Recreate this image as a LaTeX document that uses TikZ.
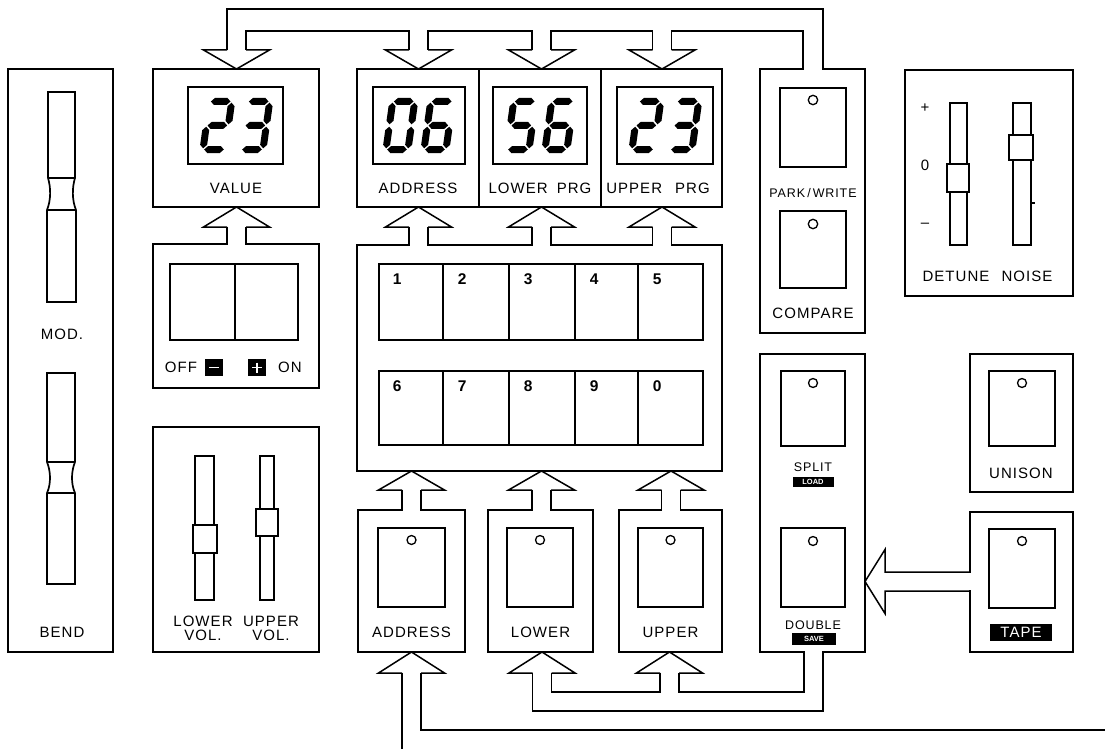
\documentclass[tikz,border=0pt]{standalone}
\usepackage{fontspec}
\setmainfont{Liberation Sans}
\newfontfamily\lab{Liberation Sans}[LetterSpace=7]
\newcommand{\SegH}[3]{\fill (#1+1.2,#3) -- (#1+4.7,#3+3.5) -- (#2-4.7,#3+3.5) -- (#2-1.2,#3) -- (#2-4.7,#3-3.5) -- (#1+4.7,#3-3.5) -- cycle;}
\newcommand{\SegV}[3]{\fill (#1,#2+1.2) -- (#1+3.5,#2+4.7) -- (#1+3.5,#3-4.7) -- (#1,#3-1.2) -- (#1-3.5,#3-4.7) -- (#1-3.5,#2+4.7) -- cycle;}
\newcommand{\sga}{\SegH{0}{22}{48}}
\newcommand{\sgb}{\SegV{22}{24}{48}}
\newcommand{\sgc}{\SegV{22}{0}{24}}
\newcommand{\sgd}{\SegH{0}{22}{0}}
\newcommand{\sge}{\SegV{0}{0}{24}}
\newcommand{\sgf}{\SegV{0}{24}{48}}
\newcommand{\sgg}{\SegH{0}{22}{24}}
\newcommand{\DigZero}{\sga\sgb\sgc\sgd\sge\sgf}
\newcommand{\DigTwo}{\sga\sgb\sgg\sge\sgd}
\newcommand{\DigThree}{\sga\sgb\sgg\sgc\sgd}
\newcommand{\DigFive}{\sga\sgf\sgg\sgc\sgd}
\newcommand{\DigSix}{\sga\sgf\sgg\sge\sgc\sgd}
\newcommand{\SevSeg}[3]{\begin{scope}[shift={(#1,#2)}, xslant=0.14, yscale=-1]#3\end{scope}}
\newcommand{\ArrHead}[3]{\draw (#1-9.5,#3) -- (#1-33,#3) -- (#1,#2) -- (#1+33,#3) -- (#1+9.5,#3);}
\newcommand{\Gap}[3]{\fill[white] (#1+0.9,#3-1.6) rectangle (#2-0.9,#3+1.6);}
\begin{document}
\begin{tikzpicture}[x=1pt,y=-1pt,line width=1.5pt,line join=miter,
  pan/.style={draw,line width=1.5pt},
  disp/.style={draw,line width=2.2pt},
  btn/.style={draw,line width=1.7pt},
  led/.style={draw,line width=1.3pt},
  lbl/.style={inner sep=0pt,font=\lab\fontsize{15}{15}\selectfont},
  slbl/.style={inner sep=0pt,font=\lab\fontsize{12.5}{13}\selectfont},
  keyn/.style={inner sep=0pt,anchor=west,font=\bfseries\fontsize{15.5}{15.5}\selectfont},
  blk/.style={fill=black,text=white,inner sep=0pt}]
\fill[white] (0,0) rectangle (1105,749);
\useasboundingbox (0,0) rectangle (1105,749);

% ---------- MOD / BEND ----------
\draw[pan] (8,69) rectangle (113,652);
\draw[btn] (48,92) -- (75,92) -- (75,178) .. controls (72,188) and (72,200) .. (76,210) -- (76,302) -- (47,302) -- (47,210) .. controls (51,200) and (51,188) .. (48,178) -- cycle;
\draw[btn] (48,178) -- (75,178) (47,210) -- (76,210);
\draw[btn] (47,373) -- (75,373) -- (75,462) .. controls (71,472) and (71,484) .. (75,493) -- (75,584) -- (47,584) -- (47,493) .. controls (51,484) and (51,472) .. (47,462) -- cycle;
\draw[btn] (47,462) -- (75,462) (47,493) -- (75,493);
\node[lbl] (mod) at (62,334) {MOD.};
\node[lbl] (bend) at (62,632) {BEND};

% ---------- VALUE ----------
\draw[pan] (153,69) rectangle (319,207);
\draw[disp] (188,87) rectangle (283,164);
\SevSeg{203}{149.5}{\DigTwo}
\SevSeg{241}{149.5}{\DigThree}
\node[lbl] (valuel) at (236,188) {VALUE};

% ---------- OFF / ON ----------
\draw[pan] (153,244) rectangle (319,388);
\draw[btn] (170,264) rectangle (298,340);
\draw[btn] (235,264) -- (235,340);
\node[lbl] (off) at (181,367) {OFF};
\node[lbl] (on) at (290,367) {ON};
\fill (205,359) rectangle (223,376);
\draw[white,line width=1.8pt] (209,367.5) -- (219,367.5);
\fill (248,359) rectangle (266,376);
\draw[white,line width=1.8pt] (252,367.5) -- (262,367.5) (257,362.5) -- (257,372.5);

% ---------- LOWER / UPPER VOL ----------
\draw[pan] (153,427) rectangle (319,652);
\draw[btn] (195,456) rectangle (214,600);
\draw[btn,fill=white] (193,525) rectangle (217,553);
\draw[btn] (260,456) rectangle (274,600);
\draw[btn,fill=white] (256,509) rectangle (278,536);
\node[lbl] (lowl) at (203,621) {LOWER};
\node[lbl] (lowv) at (203,635) {VOL.};
\node[lbl] (uppl) at (271,621) {UPPER};
\node[lbl] (uppv) at (271,635) {VOL.};

% ---------- DISPLAYS ----------
\draw[pan] (357,69) rectangle (722,207);
\draw[pan] (479,69) -- (479,207) (601,69) -- (601,207);
\draw[disp] (373,87) rectangle (465,164);
\draw[disp] (493,87) rectangle (587,164);
\draw[disp] (617,87) rectangle (713,164);
\SevSeg{386}{149.5}{\DigZero}
\SevSeg{424}{149.5}{\DigSix}
\SevSeg{507}{149.5}{\DigFive}
\SevSeg{545}{149.5}{\DigSix}
\SevSeg{632}{149.5}{\DigTwo}
\SevSeg{670}{149.5}{\DigThree}
\node[lbl] (adrl) at (418,188) {ADDRESS};
\node[lbl] (lprg) at (540,188) {LOWER\hspace{9pt}PRG};
\node[lbl] (uprg) at (658,188) {UPPER\hspace{13pt}PRG};

% ---------- KEYPAD ----------
\draw[pan] (357,245) rectangle (722,471);
\draw[btn] (379,264) rectangle (703,340);
\draw[btn] (379,371) rectangle (703,445);
\foreach \kx in {443,509,575,638} {\draw[btn] (\kx,264) -- (\kx,340) (\kx,371) -- (\kx,445);}
\node[keyn] (k1) at (392,279) {1};
\node[keyn] (k2) at (457,279) {2};
\node[keyn] (k3) at (523,279) {3};
\node[keyn] (k4) at (589,279) {4};
\node[keyn] (k5) at (652,279) {5};
\node[keyn] (k6) at (392,386) {6};
\node[keyn] (k7) at (457,386) {7};
\node[keyn] (k8) at (523,386) {8};
\node[keyn] (k9) at (589,386) {9};
\node[keyn] (k0) at (652,386) {0};

% ---------- BOTTOM BUTTONS ----------
\draw[pan] (358,510) rectangle (465,652);
\draw[pan] (488,510) rectangle (593,652);
\draw[pan] (619,510) rectangle (722,652);
\draw[btn] (378,528) rectangle (445,607);
\draw[btn] (507,528) rectangle (573,607);
\draw[btn] (638,528) rectangle (703,607);
\draw[led] (411.5,540) circle (4.5);
\draw[led] (540,540) circle (4.5);
\draw[led] (670.5,540) circle (4.5);
\node[lbl] (adrb) at (411.5,632) {ADDRESS};
\node[lbl] (lowb) at (540.5,632) {LOWER};
\node[lbl] (uppb) at (670.5,632) {UPPER};

% ---------- PARK / COMPARE ----------
\draw[pan] (760,69) rectangle (865,333);
\draw[btn] (780,88) rectangle (846,167);
\draw[btn] (780,211) rectangle (846,288);
\draw[led] (813,100) circle (4.7);
\draw[led] (813,224) circle (4.7);
\node[slbl] (park) at (813,193) {PARK\,/\,WRITE};
\node[lbl] (comp) at (813,313) {COMPARE};

% ---------- DETUNE / NOISE ----------
\draw[pan] (905,70) rectangle (1073,296);
\draw[btn] (950,103) rectangle (967,245);
\draw[btn,fill=white] (947,164) rectangle (969,192);
\draw[btn] (1013,103) rectangle (1031,245);
\draw[btn,fill=white] (1009,135) rectangle (1033,160);
\draw[line width=1.2pt] (1031,203) -- (1035,203);
\node[lbl] (plus) at (925,108) {+};
\node[lbl] (zero) at (925,165) {0};
\node[lbl] (minus) at (925,225) {–};
\node[lbl] (detl) at (956,276) {DETUNE};
\node[lbl] (noil) at (1027,276) {NOISE};

% ---------- SPLIT / DOUBLE ----------
\draw[pan] (760,354) rectangle (865,652);
\draw[btn] (781,371) rectangle (845,446);
\draw[btn] (781,528) rectangle (845,607);
\draw[led] (813,383) circle (4.5);
\draw[led] (813,541) circle (4.5);
\node[slbl] (split) at (813,467) {SPLIT};
\node[blk,minimum width=41pt,minimum height=10pt,font=\bfseries\fontsize{7.5}{7.5}\selectfont] (load) at (813,482) {LOAD};
\node[slbl] (dbl) at (813,625) {DOUBLE};
\node[blk,minimum width=44pt,minimum height=12pt,font=\bfseries\fontsize{7.5}{7.5}\selectfont] (save) at (814,639) {SAVE};

% ---------- UNISON / TAPE ----------
\draw[pan] (970,354) rectangle (1073,492);
\draw[btn] (989,371) rectangle (1055,446);
\draw[led] (1022,383) circle (4.5);
\node[lbl] (unis) at (1021,473) {UNISON};
\draw[pan] (970,512) rectangle (1073,652);
\draw[btn] (989,529) rectangle (1055,608);
\draw[led] (1022,541) circle (4.5);
\node[blk,minimum width=62pt,minimum height=17pt,font=\lab\fontsize{15}{15}\selectfont] (tape) at (1021,632.5) {TAPE};

% ---------- TOP BUS ----------
\Gap{803}{823}{69}
\draw (227,50) -- (227,9) -- (823,9) -- (823,69);
\draw (246,50) -- (246,31) -- (409,31) -- (409,50);
\draw (428,50) -- (428,31) -- (532,31) -- (532,50);
\draw (551,50) -- (551,31) -- (652.5,31) -- (652.5,50);
\draw (671.5,50) -- (671.5,31) -- (803,31) -- (803,69);
\ArrHead{236.5}{69}{50}
\ArrHead{418.5}{69}{50}
\ArrHead{541.5}{69}{50}
\ArrHead{662}{69}{50}

% ---------- ARROWS UP INTO DISPLAYS ----------
\Gap{227}{246}{244}
\draw (227,227) -- (227,244) (246,227) -- (246,244);
\ArrHead{236.5}{207}{227}
\foreach \ax in {418.5,541.5,662} {
  \Gap{\ax-9.5}{\ax+9.5}{245}
  \draw (\ax-9.5,227) -- (\ax-9.5,245) (\ax+9.5,227) -- (\ax+9.5,245);
  \ArrHead{\ax}{207}{227}
}

% ---------- ARROWS UP INTO KEYPAD ----------
\foreach \ax in {411.5,541.5,671} {
  \Gap{\ax-9.5}{\ax+9.5}{510}
  \draw (\ax-9.5,490) -- (\ax-9.5,510) (\ax+9.5,490) -- (\ax+9.5,510);
  \ArrHead{\ax}{471}{490}
}

% ---------- BOTTOM BUS ----------
\ArrHead{411.5}{652}{673}
\ArrHead{542}{652}{673}
\ArrHead{669.5}{652}{673}
\Gap{804}{823}{652}
\draw (402,673) -- (402,752);
\draw (421,673) -- (421,730) -- (1108,730);
\draw (532.5,673) -- (532.5,711) -- (823,711) -- (823,652);
\draw (551.5,673) -- (551.5,692) -- (660,692) -- (660,673);
\draw (679,673) -- (679,692) -- (804,692) -- (804,652);

% ---------- TAPE -> DOUBLE ----------
\fill[white] (968.5,572.9) rectangle (971.5,590.1);
\draw (970,572) -- (885,572) -- (885,549.5) -- (865,581.5) -- (885,613.5) -- (885,591) -- (970,591);
\end{tikzpicture}
\end{document}
